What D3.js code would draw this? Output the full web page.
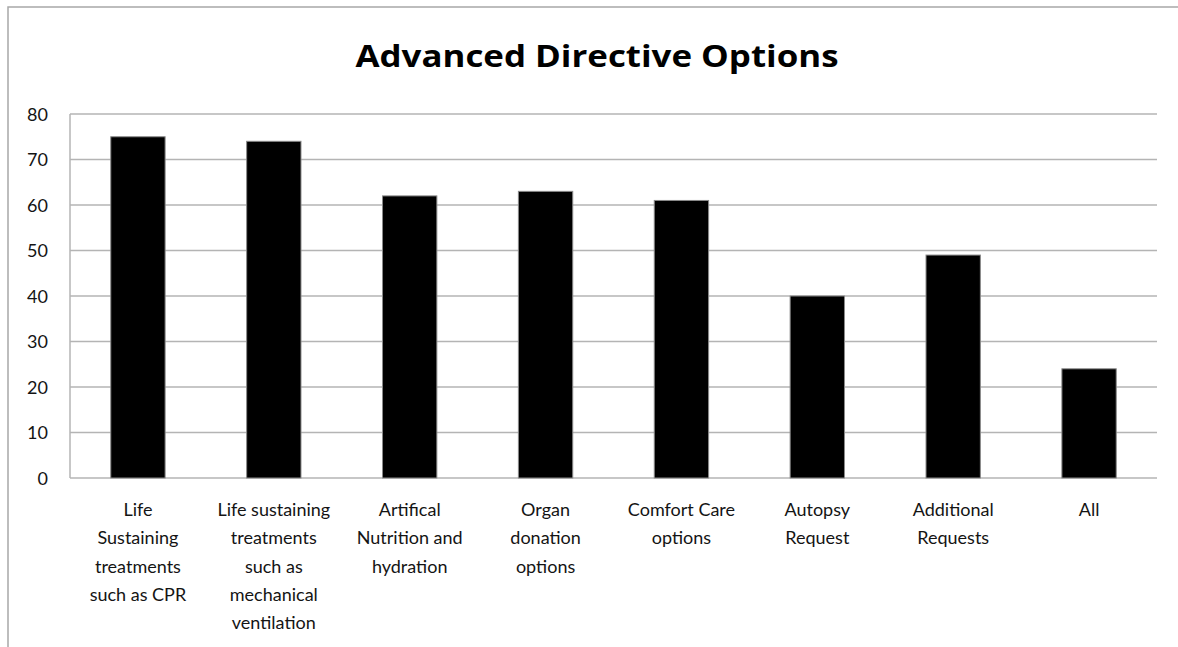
<!DOCTYPE html>
<html>
  <head>
    <title>Advanced Directive Options</title>
    <script src="https://d3js.org/d3.v7.min.js"></script>
    <style>
      body {
        margin: 0;
        background: #fff;
        font-family: Lato, "Open Sans", sans-serif;
      }
      .grid line {
        stroke: #b4b4b4;
        stroke-width: 1.5px;
      }
      .tick-label,
      .cat-label {
        font-size: 18px;
        fill: #141414;
      }
    </style>
  </head>
  <body>
    <div id="chart"></div>

    <script>
      // Chart data
      const categories = [
        "Life\nSustaining\ntreatments\nsuch as CPR",
        "Life sustaining\ntreatments\nsuch as\nmechanical\nventilation",
        "Artifical\nNutrition and\nhydration",
        "Organ\ndonation\noptions",
        "Comfort Care\noptions",
        "Autopsy\nRequest",
        "Additional\nRequests",
        "All",
      ];
      const values = [75, 74, 62, 63, 61, 40, 49, 24];
      const yTicks = [0, 10, 20, 30, 40, 50, 60, 70, 80];
      const title = "Advanced Directive Options";

      const W = 1178,
        H = 647;
      const margin = { top: 114, right: 21, bottom: 169, left: 70 };
      const width = W - margin.left - margin.right;
      const height = H - margin.top - margin.bottom;

      const svg = d3
        .select("#chart")
        .append("svg")
        .attr("width", W)
        .attr("height", H);

      // outer chart frame (cropped on right and bottom)
      svg
        .append("rect")
        .attr("x", 8)
        .attr("y", 7)
        .attr("width", W + 20)
        .attr("height", H + 20)
        .attr("fill", "none")
        .attr("stroke", "#a8a8a8")
        .attr("stroke-width", 1.5);

      // title
      const titleText = svg
        .append("text")
        .attr("x", 597)
        .attr("y", 67)
        .attr("text-anchor", "middle")
        .style("font-family", "'Open Sans', Lato, sans-serif")
        .style("font-size", "31px")
        .style("font-weight", "bold")
        .style("fill", "#000")
        .text(title);
      // stretch to the reference width
      titleText.attr("textLength", 483).attr("lengthAdjust", "spacingAndGlyphs");

      const g = svg
        .append("g")
        .attr("transform", "translate(" + margin.left + "," + margin.top + ")");

      const x = d3.scaleBand().domain(categories).range([0, width]).padding(0);
      const y = d3.scaleLinear().domain([0, 80]).range([height, 0]);

      // gridlines
      g.append("g")
        .attr("class", "grid")
        .selectAll("line")
        .data(yTicks)
        .join("line")
        .attr("x1", 0)
        .attr("x2", width)
        .attr("y1", (d) => y(d))
        .attr("y2", (d) => y(d));

      // left axis line
      g.append("line")
        .attr("x1", 0)
        .attr("x2", 0)
        .attr("y1", 0)
        .attr("y2", height)
        .attr("stroke", "#b4b4b4")
        .attr("stroke-width", 1.5);

      // y tick labels
      g.selectAll(".tick-label")
        .data(yTicks)
        .join("text")
        .attr("class", "tick-label")
        .attr("x", -22)
        .attr("y", (d) => y(d))
        .attr("dy", "0.38em")
        .attr("text-anchor", "end")
        .text((d) => d);

      // bars
      const barW = x.bandwidth() * 0.4;
      g.selectAll(".bar")
        .data(values)
        .join("rect")
        .attr("class", "bar")
        .attr("x", (d, i) => x(categories[i]) + (x.bandwidth() - barW) / 2)
        .attr("y", (d) => y(d))
        .attr("width", barW)
        .attr("height", (d) => height - y(d))
        .attr("fill", "#000")
        .attr("stroke", "#8a8a8a")
        .attr("stroke-width", 1);

      // category labels
      const labels = g
        .selectAll(".cat-label")
        .data(categories)
        .join("text")
        .attr("class", "cat-label")
        .attr("text-anchor", "middle")
        .attr("transform", (d) => "translate(" + (x(d) + x.bandwidth() / 2) + "," + (height + 38) + ")");

      labels
        .selectAll("tspan")
        .data((d) => d.split("\n"))
        .join("tspan")
        .attr("x", 0)
        .attr("y", (d, i) => i * 28.3)
        .text((d) => d);
    </script>
  </body>
</html>
